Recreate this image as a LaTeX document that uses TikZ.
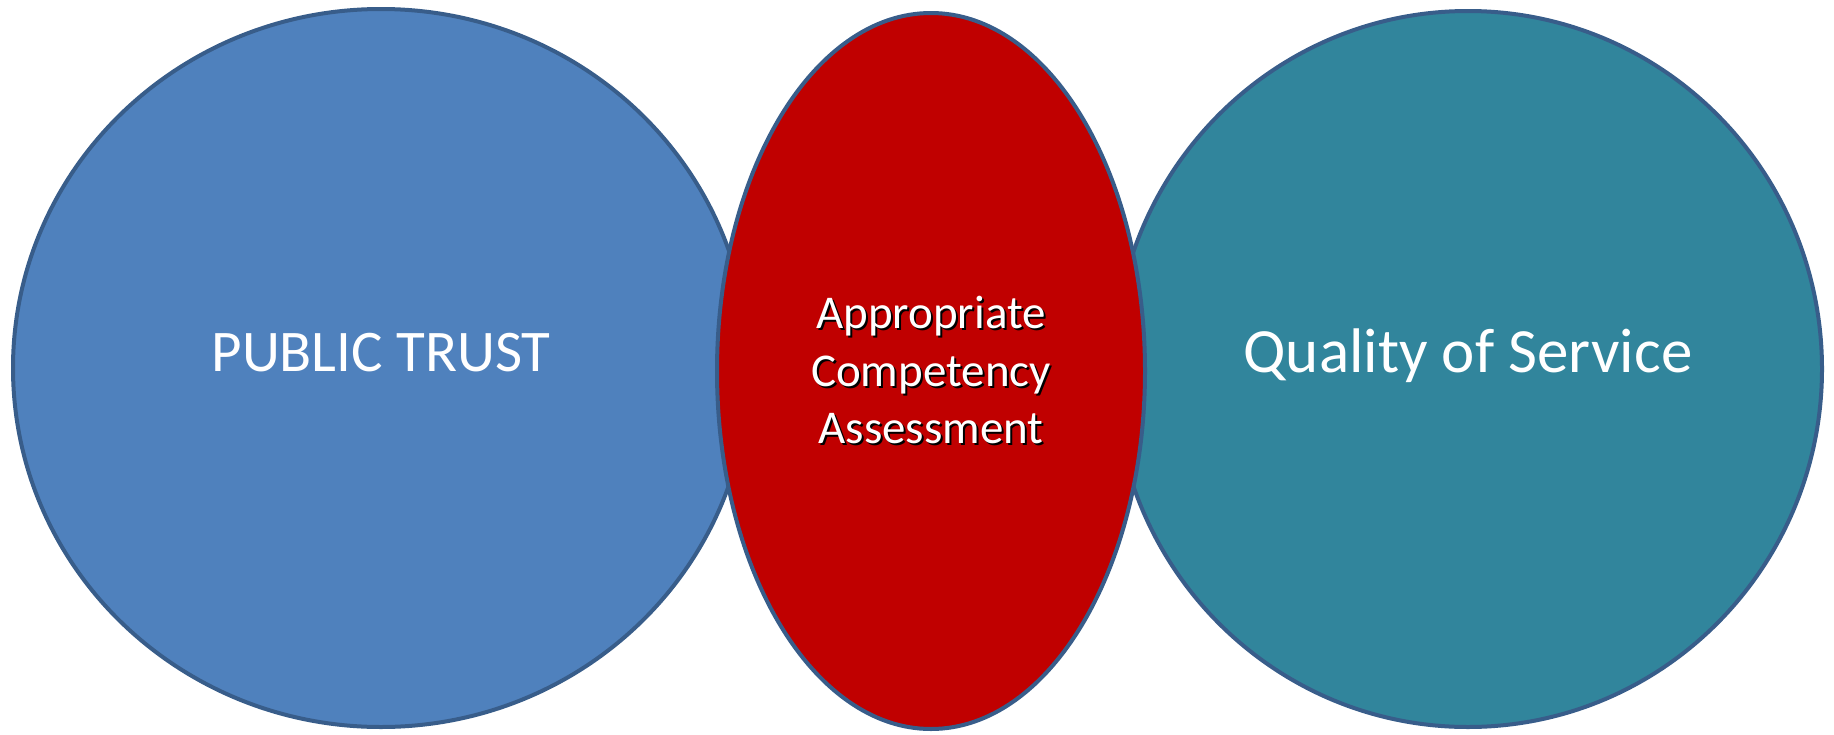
\documentclass[tikz,border=0pt]{standalone}
\usepackage{fontspec}
\setmainfont{Carlito}
\usepackage{xcolor}
\usetikzlibrary{shapes.geometric}

\definecolor{trustblue}{HTML}{4F81BD}
\definecolor{serviceteal}{HTML}{31859C}
\definecolor{competred}{HTML}{C00000}
\definecolor{rimblue}{HTML}{385D8A}

% white text with a small black shadow
\newcommand{\shadowed}[1]{\makebox[0pt][l]{\hspace{2pt}\raisebox{-2pt}{\color{black}#1}}#1}

\tikzset{
  bubble/.style={ellipse, draw=rimblue, line width=4pt, inner sep=0pt,
    text=white, font=\fontsize{63}{70}\selectfont, text height=0.64em, text depth=0pt},
  midbubble/.style={bubble, align=center, font=\fontsize{47}{57.5}\selectfont,
    text height=, text depth=}
}

\begin{document}
\begin{tikzpicture}[x=1pt, y=-1pt]
\useasboundingbox (0,0) rectangle (1834,734);

\node[bubble, fill=trustblue, minimum width=736pt, minimum height=718pt,
  font=\fontsize{59}{66}\selectfont]
  (trust) at (381,368) {PUBLIC TRUST};
\node[bubble, fill=serviceteal, minimum width=708pt, minimum height=716pt]
  (service) at (1468,369) {Quality of Service};
\node[midbubble, fill=competred, minimum width=428pt, minimum height=716pt]
  (compet) at (931,371) {\shadowed{Appropriate}\\\shadowed{Competency}\\\shadowed{Assessment}};
\end{tikzpicture}
\end{document}
